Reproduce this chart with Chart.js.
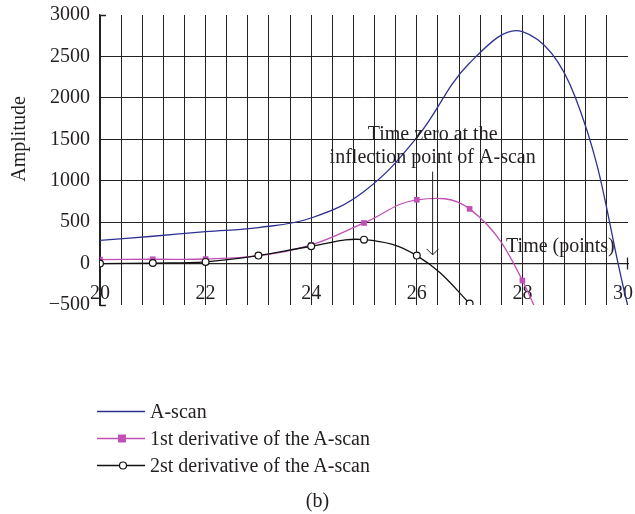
<!DOCTYPE html>
<html>
<head>
<meta charset="utf-8">
<script src="https://cdn.jsdelivr.net/npm/chart.js@4/dist/chart.umd.min.js"></script>
<style>
  body { margin: 0; background: #fff; }
  #wrap { position: relative; width: 635px; height: 514px; }
  #legend { position: absolute; left: 97px; top: 398px; font-family: "Liberation Serif", serif; font-size: 20px; color: #231f20; }
  #legend .row { display: flex; align-items: center; height: 27px; }
  #legend svg { margin-right: 5px; }
  #caption { position: absolute; left: 0; width: 635px; top: 488px; line-height: 24px; text-align: center; font-family: "Liberation Serif", serif; font-size: 20px; color: #231f20; }
</style>
</head>
<body>
<div id="wrap">
  <canvas id="chart" width="635" height="514"></canvas>
  <div id="legend"></div>
  <div id="caption">(b)</div>
</div>
<script>
const timePoints = [20, 21, 22, 23, 24, 25, 26, 27, 28, 29, 30];
const aScan = [280, 330, 385, 435, 550, 870, 1520, 2420, 2800, 2010, -520];
const firstDeriv = [48, 52, 55, 95, 225, 490, 770, 660, -205, -1900];
const secondDeriv = [0, 6, 20, 96, 209, 289, 96, -482, -1250];
const yTicks = [-500, 0, 500, 1000, 1500, 2000, 2500, 3000];
const xLabelTicks = [20, 22, 24, 26, 28, 30];
const seriesNames = ['A-scan', '1st derivative of the A-scan', '2st derivative of the A-scan'];

const INK = '#231f20';
const SERIF = '"Liberation Serif", serif';

function pts(values) {
    return values.map((v, i) => ({ x: timePoints[i], y: v }));
}

const datasets = [
    {
        label: seriesNames[0],
        data: pts(aScan),
        borderColor: '#2e3192',
        borderWidth: 1.3,
        pointRadius: 0,
        tension: 0.4,
        order: 2
    },
    {
        label: seriesNames[1],
        data: pts(firstDeriv),
        borderColor: '#c150b5',
        backgroundColor: '#c150b5',
        borderWidth: 1.3,
        pointStyle: 'rect',
        pointRadius: 4,
        pointBorderWidth: 0,
        tension: 0.4,
        order: 1
    },
    {
        label: seriesNames[2],
        data: pts(secondDeriv),
        borderColor: '#111',
        backgroundColor: '#fff',
        borderWidth: 1.3,
        pointStyle: 'circle',
        pointRadius: 3.4,
        pointBorderWidth: 1.2,
        tension: 0.4,
        order: 0
    }
];

// text, arrow, small axis ticks and y title drawn on top of the plot
const notes = {
    id: 'notes',
    afterDatasetsDraw(chart) {
        const { ctx, scales: { x, y } } = chart;
        ctx.save();
        ctx.fillStyle = INK;
        ctx.strokeStyle = INK;
        ctx.font = '20px ' + SERIF;
        ctx.textAlign = 'center';
        ctx.textBaseline = 'middle';
        const ax = x.getPixelForValue(26.3);
        ctx.fillText('Time zero at the', ax, y.getPixelForValue(1550));
        ctx.fillText('inflection point of A-scan', ax, y.getPixelForValue(1275));
        ctx.fillText('Time (points)', x.getPixelForValue(28.72), y.getPixelForValue(205));

        // arrow
        const top = y.getPixelForValue(1110);
        const bot = y.getPixelForValue(105);
        ctx.lineWidth = 1;
        ctx.beginPath();
        ctx.moveTo(ax, top);
        ctx.lineTo(ax, bot);
        ctx.moveTo(ax - 6, bot - 6);
        ctx.lineTo(ax, bot);
        ctx.lineTo(ax + 6, bot - 6);
        ctx.stroke();

        // inward ticks at the ends of the axes
        const x0 = x.getPixelForValue(20), x1 = x.getPixelForValue(30), y0 = y.getPixelForValue(0);
        ctx.lineWidth = 1.3;
        ctx.beginPath();
        [3000, -500].forEach(v => {
            const py = Math.round(y.getPixelForValue(v)) + 0.5;
            ctx.moveTo(x0, py);
            ctx.lineTo(x0 + 6, py);
        });
        ctx.moveTo(Math.round(x1) - 0.5, y0 - 6);
        ctx.lineTo(Math.round(x1) - 0.5, y0 + 6);
        ctx.stroke();

        // y title
        ctx.translate(20, 139);
        ctx.rotate(-Math.PI / 2);
        ctx.fillText('Amplitude', 0, 0);
        ctx.restore();
    }
};

new Chart(document.getElementById('chart'), {
    type: 'line',
    data: { datasets: datasets },
    options: {
        responsive: false,
        animation: false,
        events: [],
        layout: { padding: { top: 15, right: 7, left: 0, bottom: 209 } },
        plugins: {
            legend: { display: false },
            tooltip: { enabled: false }
        },
        scales: {
            x: {
                type: 'linear',
                position: { y: 0 },
                min: 20,
                max: 30,
                afterFit: s => { s.paddingLeft = 0; s.paddingRight = 0; s.height = 0; },
                ticks: {
                    stepSize: 0.4,
                    autoSkip: false,
                    maxRotation: 0,
                    padding: 18,
                    color: INK,
                    font: { family: SERIF, size: 20 },
                    callback: v => {
                        const r = Math.round(v);
                        if (Math.abs(v - r) > 1e-6 || !xLabelTicks.includes(r)) return '';
                        // last label sits a little to the left of its tick
                        return r === 30 ? '30\u2002' : String(r);
                    }
                },
                grid: {
                    drawTicks: false,
                    color: c => (c.tick && Math.abs(c.tick.value - 30) < 1e-6) ? 'rgba(0,0,0,0)' : '#222',
                    lineWidth: 1
                },
                border: { display: true, color: '#222', width: 1.3 }
            },
            y: {
                min: -500,
                max: 3000,
                afterFit: s => { s.width = 100; s.paddingTop = 0; s.paddingBottom = 0; },
                afterBuildTicks: s => { s.ticks = yTicks.map(v => ({ value: v })); },
                ticks: {
                    padding: 10,
                    color: INK,
                    font: { family: SERIF, size: 20 },
                    callback: v => v < 0 ? '\u2212' + Math.abs(v) : String(v)
                },
                grid: {
                    drawTicks: false,
                    color: c => (c.tick && (c.tick.value === 3000 || c.tick.value === -500)) ? 'rgba(0,0,0,0)' : '#222',
                    lineWidth: 1
                },
                border: { display: true, color: '#222', width: 1.3 }
            }
        }
    },
    plugins: [notes]
});

// legend built from the datasets
const legend = document.getElementById('legend');
datasets.forEach(ds => {
    const row = document.createElement('div');
    row.className = 'row';
    let marker = '';
    if (ds.pointStyle === 'rect') {
        marker = `<rect x="21" y="9.5" width="8" height="8" fill="${ds.borderColor}"/>`;
    } else if (ds.pointStyle === 'circle') {
        marker = `<circle cx="26" cy="13.5" r="3.5" fill="#fff" stroke="${ds.borderColor}" stroke-width="1.2"/>`;
    }
    row.innerHTML = `<svg width="48" height="27"><line x1="0" y1="13.5" x2="48" y2="13.5" stroke="${ds.borderColor}" stroke-width="1.3"/>${marker}</svg><span>${ds.label}</span>`;
    legend.appendChild(row);
});
</script>
</body>
</html>
